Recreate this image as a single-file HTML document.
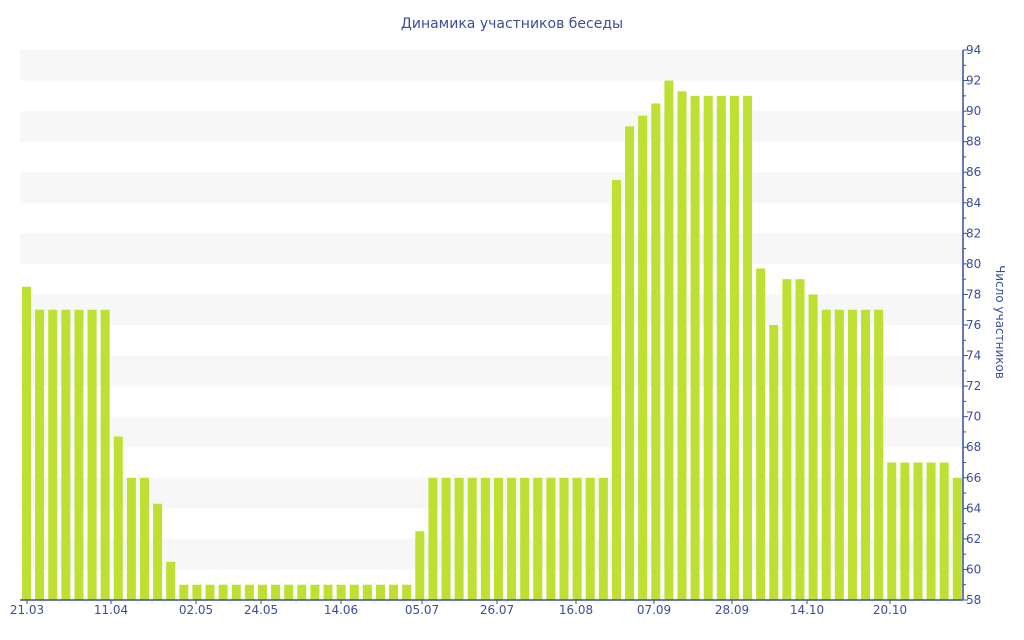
<!DOCTYPE html>
<html><head><meta charset="utf-8"><style>
body{margin:0;background:#fff;}
svg{display:block;font-family:"DejaVu Sans","Liberation Sans",sans-serif;}
</style></head><body>
<svg id="c" width="1024" height="640" xmlns="http://www.w3.org/2000/svg">
<text x="512" y="28" text-anchor="middle" font-size="14" fill="#3a4f9a">Динамика участников беседы</text>
<g id="bands"></g>
<g id="bars"></g>
<line x1="963" y1="50" x2="963" y2="600" stroke="#3a4f9a" stroke-width="1.5"/>
<line x1="20" y1="600" x2="963" y2="600" stroke="#3a4f9a" stroke-width="1.5"/>
<g id="yt" font-size="12" fill="#3a4f9a"></g>
<g id="xt" font-size="12" fill="#3a4f9a" text-anchor="middle"></g>
<text transform="translate(996,322) rotate(90)" text-anchor="middle" font-size="12" fill="#3a4f9a">Число участников</text>
</svg>
<script>
var NS="http://www.w3.org/2000/svg";
function el(p,t,a,txt){var e=document.createElementNS(NS,t);for(var k in a)e.setAttribute(k,a[k]);if(txt)e.textContent=txt;document.getElementById(p).appendChild(e);}
function Y(v){return 600-(v-58)*550/36;}
for(var v=60;v<=92;v+=4){el("bands","rect",{x:20,y:Y(v+2),width:943,height:Y(v)-Y(v+2),fill:"#f7f7f7"});}
var vals=[78.5,77,77,77,77,77,77,68.7,66,66,64.3,60.5];
for(var i=0;i<18;i++)vals.push(59);
vals.push(62.5);
for(i=0;i<14;i++)vals.push(66);
vals=vals.concat([85.5,89,89.7,90.5,92,91.3,91,91,91,91,91,79.7,76,79,79,78,77,77,77,77,77,67,67,67,67,67,66]);
for(i=0;i<vals.length;i++){var x=22+i*13.11;el("bars","rect",{x:x,y:Y(vals[i]),width:9,height:600-Y(vals[i]),fill:"#bde032"});}
for(v=58;v<=94;v++){var y=Y(v);el("yt","line",{x1:963,y1:y,x2:v%2?966:968,y2:y,stroke:"#3a4f9a"});if(v%2==0)el("yt","text",{x:966,y:y+4},String(v));}
var xl=[[27,"21.03"],[111,"11.04"],[196,"02.05"],[261,"24.05"],[341,"14.06"],[422,"05.07"],[497,"26.07"],[576,"16.08"],[654,"07.09"],[732,"28.09"],[807,"14.10"],[890,"20.10"]];
xl.forEach(function(a){el("xt","line",{x1:a[0],y1:600,x2:a[0],y2:604,stroke:"#3a4f9a"});el("xt","text",{x:a[0],y:614},a[1]);});
</script>
</body></html>
